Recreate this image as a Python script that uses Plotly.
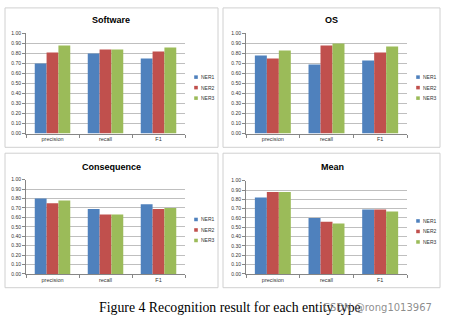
import plotly.graph_objects as go

categories = ["precision", "recall", "F1"]
series_names = ["NER1", "NER2", "NER3"]
colors = ["#4F81BD", "#C0504D", "#9BBB59"]
y_ticks = [0.0, 0.1, 0.2, 0.3, 0.4, 0.5, 0.6, 0.7, 0.8, 0.9, 1.0]

software_ner1 = [0.70, 0.80, 0.75]
software_ner2 = [0.81, 0.84, 0.82]
software_ner3 = [0.88, 0.84, 0.86]

os_ner1 = [0.78, 0.69, 0.73]
os_ner2 = [0.75, 0.88, 0.81]
os_ner3 = [0.83, 0.90, 0.87]

consequence_ner1 = [0.80, 0.69, 0.74]
consequence_ner2 = [0.75, 0.63, 0.69]
consequence_ner3 = [0.78, 0.63, 0.70]

mean_ner1 = [0.82, 0.60, 0.69]
mean_ner2 = [0.88, 0.56, 0.69]
mean_ner3 = [0.88, 0.54, 0.67]

panel_titles = ["Software", "OS", "Consequence", "Mean"]
panels = [
    [software_ner1, software_ner2, software_ner3],
    [os_ner1, os_ner2, os_ner3],
    [consequence_ner1, consequence_ner2, consequence_ner3],
    [mean_ner1, mean_ner2, mean_ner3],
]

W, H = 450, 328


def px(x):
    return x / W


def py(y):
    return 1 - y / H


# plot areas (pixels): x0, x1, ytop, ybottom
areas = [
    (26, 185, 31, 133),
    (246, 407, 31, 133),
    (26, 185, 180, 276),
    (246, 407, 181, 276),
]
frames = [
    (5, 218, 5, 147),
    (223, 440, 5, 147),
    (5, 218, 153, 290),
    (223, 440, 153, 290),
]
title_pos = [(111, 17), (331, 17), (111, 167), (332, 167)]
# legend: x of square, y of first item, spacing
legend_pos = [(196, 75.5, 10.7), (418, 75.5, 10.7), (196, 220.5, 10.7), (418, 222, 10.7)]

fig = go.Figure()
layout = dict(
    width=W, height=H, margin=dict(l=0, r=0, t=0, b=0),
    paper_bgcolor="white", plot_bgcolor="white",
    barmode="group", bargap=0.33, bargroupgap=0.0, showlegend=False,
    shapes=[], annotations=[],
)

for i, data in enumerate(panels):
    n = "" if i == 0 else str(i + 1)
    for j, vals in enumerate(data):
        fig.add_trace(go.Bar(
            x=categories, y=vals, name=series_names[j],
            marker=dict(color=colors[j], line=dict(width=0)),
            xaxis="x" + n, yaxis="y" + n,
        ))
    x0, x1, yt, yb = areas[i]
    layout["xaxis" + n] = dict(
        domain=[px(x0), px(x1)], anchor="y" + n,
        showline=True, linecolor="#868686", linewidth=1,
        ticks="outside", ticklen=3, tickcolor="#868686", tickson="boundaries",
        tickfont=dict(family="Liberation Sans", size=5.5, color="#333333"),
        showgrid=False, fixedrange=True,
    )
    layout["yaxis" + n] = dict(
        domain=[py(yb), py(yt)], anchor="x" + n, range=[0, 1.0],
        tickvals=y_ticks, tickformat=".2f",
        showline=True, linecolor="#868686", linewidth=1,
        ticks="outside", ticklen=3, tickcolor="#868686",
        gridcolor="#BFBFBF", gridwidth=1,
        tickfont=dict(family="Liberation Sans", size=5, color="#333333"),
        zeroline=False, fixedrange=True,
    )
    # manual legend
    lx, ly, dy = legend_pos[i]
    for j, name in enumerate(series_names):
        yc = ly + j * dy
        layout["shapes"].append(dict(
            type="rect", xref="paper", yref="paper",
            x0=px(lx - 1.8), x1=px(lx + 1.8), y0=py(yc + 1.8), y1=py(yc - 1.8),
            fillcolor=colors[j], line=dict(width=0),
        ))
        layout["annotations"].append(dict(
            text=name, xref="paper", yref="paper", x=px(lx + 2.8), y=py(yc),
            xanchor="left", yanchor="middle", showarrow=False,
            font=dict(family="Liberation Sans", size=5, color="#333333"),
        ))
    fx0, fx1, fyt, fyb = frames[i]
    layout["shapes"].append(dict(
        type="rect", xref="paper", yref="paper",
        x0=px(fx0), x1=px(fx1), y0=py(fyb), y1=py(fyt),
        line=dict(color="#D0D0D0", width=1), layer="below",
    ))
    tx, ty = title_pos[i]
    layout["annotations"].append(dict(
        text="<b>" + panel_titles[i] + "</b>", xref="paper", yref="paper",
        x=px(tx), y=py(ty), xanchor="center", yanchor="middle", showarrow=False,
        font=dict(family="Liberation Sans", size=9, color="#000000"),
    ))

layout["annotations"].append(dict(
    text="Figure 4 Recognition result for each entity type",
    xref="paper", yref="paper", x=px(97), y=py(310), xanchor="left", yanchor="middle",
    showarrow=False, font=dict(family="Liberation Serif", size=13.8, color="#000000"),
))
layout["annotations"].append(dict(
    text="CSDN @rong1013967",
    xref="paper", yref="paper", x=px(434), y=py(310), xanchor="right", yanchor="middle",
    showarrow=False, font=dict(family="DejaVu Sans", size=10, color="rgba(120,120,120,0.85)"),
))

fig.update_layout(**layout)
fig.write_html("out.html")
